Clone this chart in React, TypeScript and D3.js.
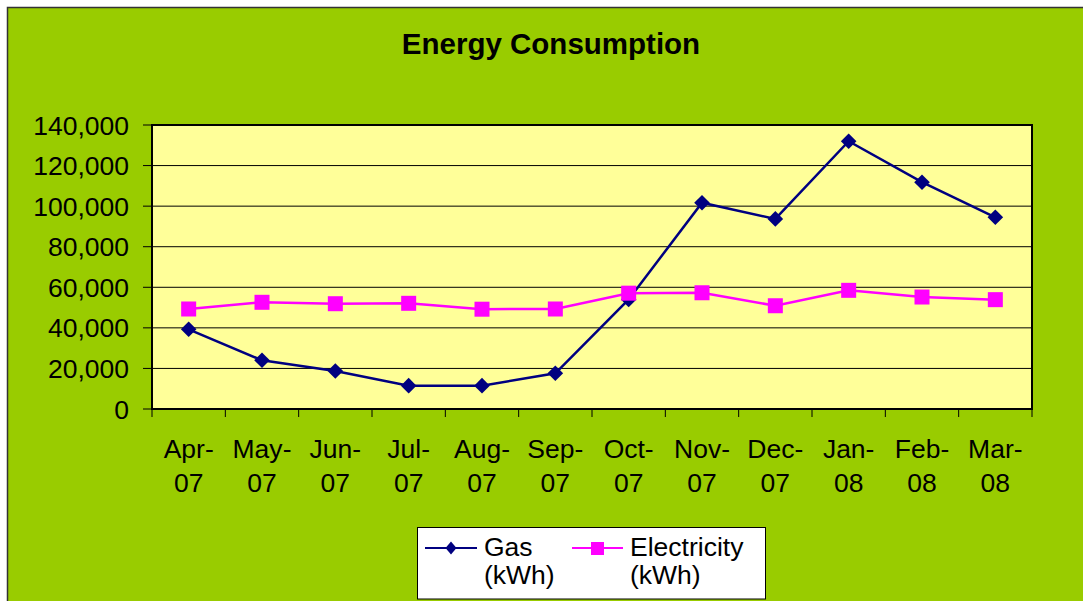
import React from "react";
import * as d3 from "d3";

const months = ["Apr-07", "May-07", "Jun-07", "Jul-07", "Aug-07", "Sep-07", "Oct-07", "Nov-07", "Dec-07", "Jan-08", "Feb-08", "Mar-08"];
const gas = [39300, 24000, 18700, 11500, 11500, 17600, 54000, 101700, 93700, 132000, 111800, 94500];
const electricity = [49300, 52600, 51900, 52100, 49200, 49300, 57100, 57300, 50900, 58500, 55200, 53900];
const yTicks = [0, 20000, 40000, 60000, 80000, 100000, 120000, 140000];

const W = 1083;
const H = 601;
const plot = { left: 152, top: 125, right: 1032, bottom: 409 };
const font = "'Liberation Sans', Arial, sans-serif";

function Diamond({ cx, cy, rx, ry, fill }: { cx: number; cy: number; rx: number; ry: number; fill: string }) {
  return <path d={`M${cx},${cy - ry}L${cx + rx},${cy}L${cx},${cy + ry}L${cx - rx},${cy}Z`} fill={fill} />;
}

export default function App() {
  const x = d3.scaleBand().domain(months).range([plot.left, plot.right]);
  const y = d3.scaleLinear().domain([0, 140000]).range([plot.bottom, plot.top]);
  const cx = (m: string) => (x(m) as number) + x.bandwidth() / 2;
  const fmt = d3.format(",");

  const line = d3
    .line<number>()
    .x((_, i) => cx(months[i]))
    .y((d) => y(d));

  const edges = months.map((m) => x(m) as number).concat([plot.right]);

  return (
    <svg
      width={W}
      height={H}
      style={{ position: "absolute", left: 0, top: 0, background: "#fff" }}
      fontFamily={font}
    >
      {/* chart area */}
      <rect x={7.5} y={7.5} width={W + 20} height={H + 20} fill="#99CC00" stroke="#333" strokeWidth={1.5} />
      <text x={551} y={54} textAnchor="middle" fontSize={29.5} fontWeight="bold" fill="#000">
        Energy Consumption
      </text>

      {/* plot area */}
      <rect x={plot.left} y={plot.top} width={plot.right - plot.left} height={plot.bottom - plot.top} fill="#FFFF99" />
      {yTicks.map((t) => (
        <g key={t}>
          <line x1={plot.left - 9} x2={plot.right} y1={y(t)} y2={y(t)} stroke="#000" strokeWidth={1} />
          <text x={129} y={y(t)} dy="0.36em" textAnchor="end" fontSize={26.5} fill="#000">
            {fmt(t)}
          </text>
        </g>
      ))}
      <rect
        x={plot.left}
        y={plot.top}
        width={plot.right - plot.left}
        height={plot.bottom - plot.top}
        fill="none"
        stroke="#000"
        strokeWidth={2}
      />
      {edges.map((e, i) => (
        <line key={i} x1={e} x2={e} y1={plot.bottom} y2={plot.bottom + 8} stroke="#000" strokeWidth={1} />
      ))}
      {months.map((m) => {
        const [mon, yr] = m.split("-");
        return (
          <text key={m} x={cx(m)} textAnchor="middle" fontSize={26.5} fill="#000">
            <tspan x={cx(m)} y={458}>{mon}-</tspan>
            <tspan x={cx(m)} y={492}>{yr}</tspan>
          </text>
        );
      })}

      {/* series */}
      <path d={line(gas) || ""} fill="none" stroke="#000080" strokeWidth={2.5} />
      {gas.map((v, i) => (
        <Diamond key={i} cx={cx(months[i])} cy={y(v)} rx={7.8} ry={7.8} fill="#000080" />
      ))}
      <path d={line(electricity) || ""} fill="none" stroke="#FF00FF" strokeWidth={2.5} />
      {electricity.map((v, i) => (
        <rect key={i} x={cx(months[i]) - 7.5} y={y(v) - 7.5} width={15} height={15} fill="#FF00FF" />
      ))}

      {/* legend */}
      <rect x={417.5} y={527.5} width={348} height={71.5} fill="#fff" stroke="#000" strokeWidth={1} />
      <line x1={425} x2={477} y1={548} y2={548} stroke="#000080" strokeWidth={2} />
      <Diamond cx={451} cy={548} rx={5.5} ry={6.5} fill="#000080" />
      <text x={484} fontSize={26.5} fill="#000">
        <tspan x={484} y={556}>Gas</tspan>
        <tspan x={484} y={584}>(kWh)</tspan>
      </text>
      <line x1={572} x2={623} y1={548} y2={548} stroke="#FF00FF" strokeWidth={2} />
      <rect x={591} y={542} width={13} height={13} fill="#FF00FF" />
      <text x={630} fontSize={26.5} fill="#000">
        <tspan x={630} y={556}>Electricity</tspan>
        <tspan x={630} y={584}>(kWh)</tspan>
      </text>
    </svg>
  );
}
